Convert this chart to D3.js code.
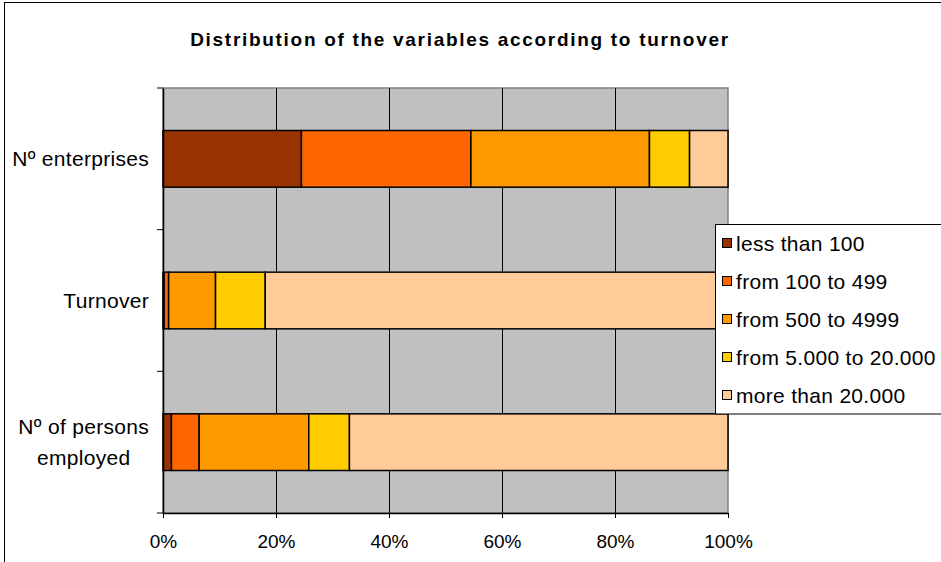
<!DOCTYPE html>
<html>
<head>
<meta charset="utf-8">
<script src="https://cdn.jsdelivr.net/npm/d3@7"></script>
<style>
  body { margin: 0; background: #fff; }
  svg text { font-family: Arial, "Liberation Sans", sans-serif; fill: #000; }
</style>
</head>
<body>
<svg id="chart" width="941" height="562"></svg>
<script>
// Categories (top to bottom) and the turnover classes
const categories = ["Nº enterprises", "Turnover", "Nº of persons employed"];
const seriesNames = ["less than 100", "from 100 to 499", "from 500 to 4999", "from 5.000 to 20.000", "more than 20.000"];
const seriesColors = ["#993300", "#FF6600", "#FF9900", "#FFCC00", "#FFCC99"];

// Shares in % for each category
const lessThan100 = [24.5, 0.2, 1.5];
const from100to499 = [30.0, 0.8, 4.9];
const from500to4999 = [31.6, 8.3, 19.4];
const from5000to20000 = [7.1, 8.8, 7.2];
const moreThan20000 = [6.8, 81.9, 67.0];

const xTicks = [0, 0.2, 0.4, 0.6, 0.8, 1];

// build rows for d3.stack
const seriesValues = [lessThan100, from100to499, from500to4999, from5000to20000, moreThan20000];
const rows = categories.map((c, i) => {
    const r = { cat: c };
    seriesNames.forEach((s, j) => r[s] = seriesValues[j][i]);
    return r;
});

const svg = d3.select("#chart");

// outer chart border (right/bottom edges fall outside the picture)
svg.append("rect")
    .attr("x", 4.5).attr("y", 2.5)
    .attr("width", 1000).attr("height", 1000)
    .attr("fill", "none").attr("stroke", "#000").attr("stroke-width", 1);

const plot = { left: 163, right: 728, top: 88, bottom: 513 };

const x = d3.scaleLinear().domain([0, 1]).range([plot.left, plot.right]);
const y = d3.scaleBand().domain(categories)
    .range([plot.top, plot.bottom])
    .paddingInner(0.6).paddingOuter(0.3);

// plot background
svg.append("rect")
    .attr("x", plot.left).attr("y", plot.top)
    .attr("width", plot.right - plot.left).attr("height", plot.bottom - plot.top)
    .attr("fill", "#C0C0C0").attr("stroke", "#808080").attr("stroke-width", 1.5);

// vertical gridlines
svg.append("g").selectAll("line")
    .data(xTicks.slice(1, -1))
    .join("line")
    .attr("x1", d => Math.round(x(d)) + 0.5).attr("x2", d => Math.round(x(d)) + 0.5)
    .attr("y1", plot.top).attr("y2", plot.bottom)
    .attr("stroke", "#000").attr("stroke-width", 1);

// stacked bars
const stack = d3.stack().keys(seriesNames).offset(d3.stackOffsetExpand);
const layers = stack(rows);

svg.append("g").selectAll("g")
    .data(layers)
    .join("g")
    .attr("fill", (d, i) => seriesColors[i])
    .selectAll("rect")
    .data(d => d)
    .join("rect")
    .attr("x", d => x(d[0]))
    .attr("y", d => y(d.data.cat))
    .attr("width", d => x(d[1]) - x(d[0]))
    .attr("height", y.bandwidth())
    .attr("stroke", "#000").attr("stroke-width", 1.5);

// x axis
const xAxis = svg.append("g")
    .attr("transform", `translate(0,${plot.bottom})`)
    .call(d3.axisBottom(x).tickValues(xTicks).tickFormat(d3.format(".0%")).tickSize(5).tickSizeOuter(0));
xAxis.select(".domain").attr("stroke", "#000").attr("stroke-width", 1.5);
xAxis.selectAll(".tick line").attr("stroke", "#000");
xAxis.selectAll(".tick text")
    .attr("y", 35).attr("dy", 0)
    .style("font-size", "19px")
    .style("font-family", "Arial, 'Liberation Sans', sans-serif");

// y axis: line + ticks at category boundaries
const yAxis = svg.append("g")
    .attr("transform", `translate(${plot.left},0)`)
    .call(d3.axisLeft(y).tickSize(0).tickFormat(""));
yAxis.select(".domain").attr("stroke", "#000").attr("stroke-width", 1.5);
yAxis.selectAll(".tick text").remove();

const bounds = d3.range(categories.length + 1).map(i => plot.top + y.step() * i);
svg.append("g").selectAll("line")
    .data(bounds)
    .join("line")
    .attr("x1", plot.left - 6).attr("x2", plot.left)
    .attr("y1", d => d).attr("y2", d => d)
    .attr("stroke", "#000").attr("stroke-width", 1);

// category labels (the long one wraps onto two centred lines)
const labelLines = { "Nº of persons employed": ["Nº of persons", "employed"] };
const labelRight = 149;
categories.forEach(c => {
    const cy = y(c) + y.bandwidth() / 2;
    const lines = labelLines[c] || [c];
    const t = svg.append("text")
        .style("font-size", "21px")
        .style("letter-spacing", "0.3px");
    if (lines.length === 1) {
        t.attr("x", labelRight).attr("y", cy + 7).attr("text-anchor", "end").text(c);
    } else {
        const lh = 31;
        const y0 = cy + 7 - lh * (lines.length - 1) / 2;
        lines.forEach((l, i) => t.append("tspan").attr("y", y0 + i * lh).text(l));
        const w = Math.max(...t.selectAll("tspan").nodes().map(n => n.getComputedTextLength()));
        t.attr("text-anchor", "middle");
        t.selectAll("tspan").attr("x", labelRight - w / 2);
    }
});

// title
svg.append("text")
    .attr("x", 460).attr("y", 46)
    .attr("text-anchor", "middle")
    .style("font-size", "19px").style("font-weight", "bold")
    .style("letter-spacing", "1.7px")
    .text("Distribution of the variables according to turnover");

// legend
const legend = svg.append("g");
legend.append("rect")
    .attr("x", 715.5).attr("y", 224.5)
    .attr("width", 300).attr("height", 189.5)
    .attr("fill", "#fff").attr("stroke", "#000").attr("stroke-width", 1);

const item = legend.selectAll("g.item")
    .data(seriesNames)
    .join("g")
    .attr("class", "item")
    .attr("transform", (d, i) => `translate(0,${243 + i * 38})`);
item.append("rect")
    .attr("x", 722.5).attr("y", -4.5)
    .attr("width", 9).attr("height", 9)
    .attr("fill", (d, i) => seriesColors[i])
    .attr("stroke", "#000").attr("stroke-width", 1);
item.append("text")
    .attr("x", 736).attr("y", 7.5)
    .style("font-size", "21px")
    .style("letter-spacing", "0.3px")
    .text(d => d);
</script>
</body>
</html>
